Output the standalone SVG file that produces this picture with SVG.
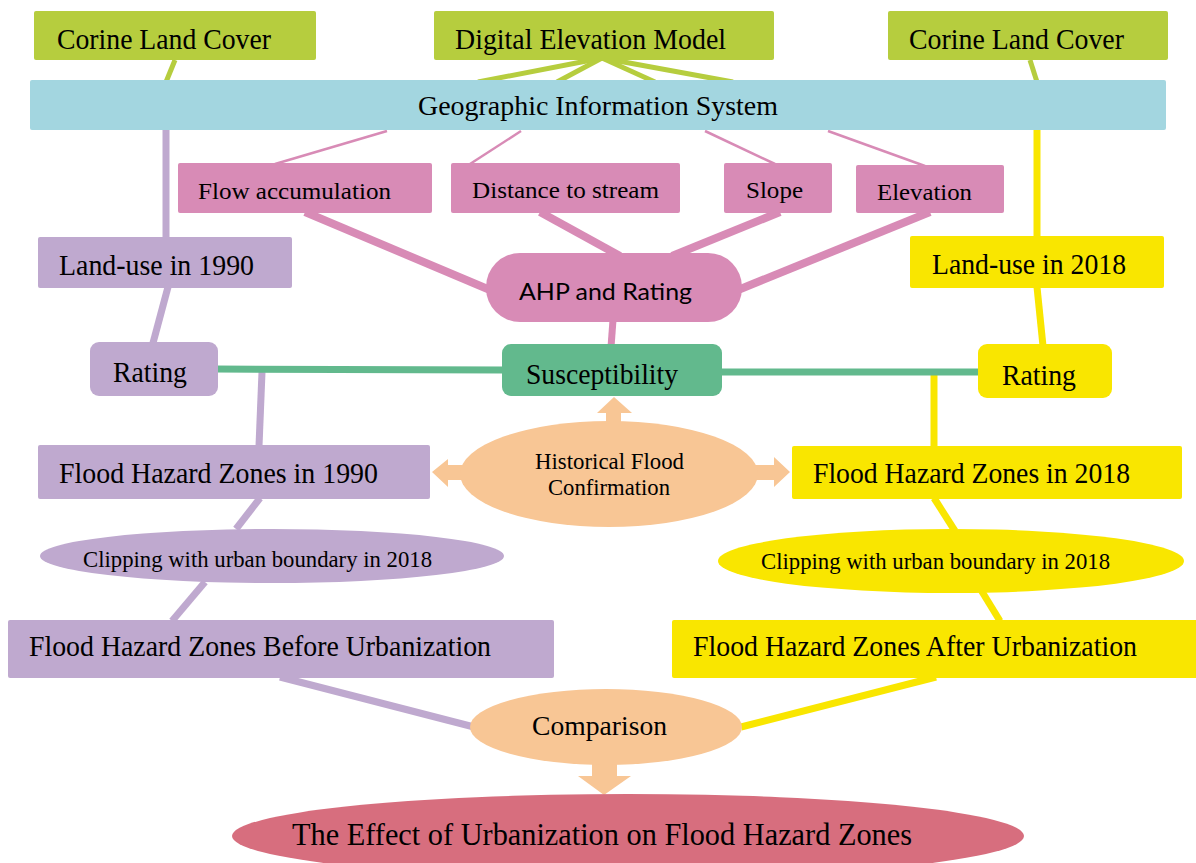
<svg xmlns="http://www.w3.org/2000/svg" width="1196" height="863" viewBox="0 0 1196 863">
<style>
.t{font-family:"Liberation Serif","Times New Roman",serif;fill:#000;}
.s{font-family:"Lato","Liberation Sans",sans-serif;fill:#000;}
.olive{fill:#b6cd3e;}
.blue{fill:#a3d6e0;}
.pink{fill:#d88bb6;}
.purple{fill:#bfa9cf;}
.yellow{fill:#f9e600;}
.green{fill:#62b98d;}
.peach{fill:#f8c695;}
.red{fill:#d76e7e;}
.lo{stroke:#b6cd3e;stroke-width:5;fill:none;}
.lp{stroke:#d88bb6;fill:none;}
.lv{stroke:#bfa9cf;stroke-width:7;fill:none;}
.ly{stroke:#f9e600;stroke-width:7;fill:none;}
.lg{stroke:#62b98d;stroke-width:7;fill:none;}
</style>
<rect width="1196" height="863" fill="#fff"/>
<g id="connectors">
  <line class="lo" x1="175" y1="60" x2="166" y2="82"/>
  <line class="lo" x1="602" y1="58" x2="478" y2="82"/>
  <line class="lo" x1="602" y1="58" x2="557" y2="82"/>
  <line class="lo" x1="602" y1="58" x2="655" y2="82"/>
  <line class="lo" x1="602" y1="58" x2="733" y2="82"/>
  <line class="lo" x1="1030" y1="60" x2="1037" y2="82"/>
  <line class="lp" stroke-width="2.5" x1="387" y1="131" x2="275" y2="164"/>
  <line class="lp" stroke-width="2.5" x1="521" y1="131" x2="470" y2="164"/>
  <line class="lp" stroke-width="2.5" x1="705" y1="131" x2="775" y2="164"/>
  <line class="lp" stroke-width="2.5" x1="828" y1="131" x2="925" y2="166"/>
  <line class="lp" stroke-width="8" x1="305" y1="212" x2="490" y2="290"/>
  <line class="lp" stroke-width="8" x1="540" y1="212" x2="620" y2="256"/>
  <line class="lp" stroke-width="8" x1="780" y1="212" x2="672" y2="256"/>
  <line class="lp" stroke-width="8" x1="930" y1="212" x2="738" y2="290"/>
  <line class="lp" stroke-width="7" x1="613" y1="320" x2="611" y2="347"/>
  <line class="lv" x1="166" y1="130" x2="166" y2="238"/>
  <line class="lv" x1="168" y1="287" x2="153" y2="343"/>
  <line class="lv" x1="262" y1="372" x2="259" y2="446"/>
  <line class="lv" x1="260" y1="498" x2="236" y2="529"/>
  <line class="lv" x1="205" y1="582" x2="172" y2="621"/>
  <line class="lv" x1="280" y1="677" x2="474" y2="727"/>
  <line class="ly" x1="1037" y1="130" x2="1037" y2="238"/>
  <line class="ly" x1="1037" y1="287" x2="1043" y2="346"/>
  <line class="ly" x1="934" y1="375" x2="934" y2="446"/>
  <line class="ly" x1="934" y1="498" x2="955" y2="531"/>
  <line class="ly" x1="981" y1="590" x2="1000" y2="621"/>
  <line class="ly" x1="936" y1="677" x2="741" y2="727"/>
  <line class="lg" x1="216" y1="369" x2="504" y2="370"/>
  <line class="lg" x1="720" y1="372" x2="981" y2="372"/>
  <path class="peach" d="M606,424 L606,413 L597,413 L614,397 L632,413 L621,413 L621,424 Z"/>
  <path class="peach" d="M464,465 L448,465 L448,459 L432,472 L448,487 L448,480 L464,480 Z"/>
  <path class="peach" d="M754,465 L774,465 L774,457 L790,472 L774,487 L774,480 L754,480 Z"/>
  <path class="peach" d="M592,762 L592,776 L578,776 L604,795 L631,776 L617,776 L617,762 Z"/>
</g>
<g id="corine-left"><rect class="olive" x="34" y="11" width="282" height="49" rx="2"/><text class="t" x="57" y="49" font-size="29" textLength="214" lengthAdjust="spacingAndGlyphs">Corine Land Cover</text></g>
<g id="dem"><rect class="olive" x="434" y="11" width="340" height="49" rx="2"/><text class="t" x="455" y="49" font-size="29" textLength="271" lengthAdjust="spacingAndGlyphs">Digital Elevation Model</text></g>
<g id="corine-right"><rect class="olive" x="888" y="11" width="280" height="49" rx="2"/><text class="t" x="909" y="49" font-size="29" textLength="215" lengthAdjust="spacingAndGlyphs">Corine Land Cover</text></g>
<g id="gis"><rect class="blue" x="30" y="80" width="1136" height="50" rx="2"/><text class="t" x="418" y="115" font-size="27" textLength="360" lengthAdjust="spacingAndGlyphs">Geographic Information System</text></g>
<g id="flow"><rect class="pink" x="178" y="163" width="254" height="50" rx="2"/><text class="t" x="198" y="199" font-size="24" textLength="193" lengthAdjust="spacingAndGlyphs">Flow accumulation</text></g>
<g id="distance"><rect class="pink" x="451" y="163" width="229" height="50" rx="2"/><text class="t" x="472" y="198" font-size="24" textLength="187" lengthAdjust="spacingAndGlyphs">Distance to stream</text></g>
<g id="slope"><rect class="pink" x="724" y="163" width="108" height="50" rx="2"/><text class="t" x="746" y="198" font-size="24" textLength="57" lengthAdjust="spacingAndGlyphs">Slope</text></g>
<g id="elevation"><rect class="pink" x="856" y="165" width="148" height="48" rx="2"/><text class="t" x="877" y="200" font-size="24" textLength="95" lengthAdjust="spacingAndGlyphs">Elevation</text></g>
<g id="ahp"><rect class="pink" x="486" y="253" width="256" height="69" rx="34"/><text class="s" x="519" y="300" font-size="24" textLength="173" lengthAdjust="spacingAndGlyphs">AHP and Rating</text></g>
<g id="landuse1990"><rect class="purple" x="38" y="237" width="254" height="51" rx="2"/><text class="t" x="59" y="275" font-size="29" textLength="195" lengthAdjust="spacingAndGlyphs">Land-use in 1990</text></g>
<g id="landuse2018"><rect class="yellow" x="910" y="236" width="254" height="52" rx="2"/><text class="t" x="932" y="274" font-size="29" textLength="194" lengthAdjust="spacingAndGlyphs">Land-use in 2018</text></g>
<g id="rating-left"><rect class="purple" x="90" y="342" width="128" height="54" rx="9"/><text class="t" x="113" y="382" font-size="29" textLength="74" lengthAdjust="spacingAndGlyphs">Rating</text></g>
<g id="susceptibility"><rect class="green" x="502" y="344" width="220" height="52" rx="9"/><text class="t" x="526" y="384" font-size="29" textLength="152" lengthAdjust="spacingAndGlyphs">Susceptibility</text></g>
<g id="rating-right"><rect class="yellow" x="978" y="344" width="134" height="54" rx="9"/><text class="t" x="1002" y="385" font-size="29" textLength="74" lengthAdjust="spacingAndGlyphs">Rating</text></g>
<g id="historical"><ellipse class="peach" cx="609" cy="474" rx="149" ry="53"/><text class="t" x="535" y="469" font-size="23" textLength="149" lengthAdjust="spacingAndGlyphs">Historical Flood</text><text class="t" x="548" y="495" font-size="23" textLength="122" lengthAdjust="spacingAndGlyphs">Confirmation</text></g>
<g id="fhz1990"><rect class="purple" x="38" y="445" width="392" height="54" rx="2"/><text class="t" x="59" y="483" font-size="29" textLength="319" lengthAdjust="spacingAndGlyphs">Flood Hazard Zones in 1990</text></g>
<g id="fhz2018"><rect class="yellow" x="792" y="446" width="390" height="53" rx="2"/><text class="t" x="813" y="483" font-size="29" textLength="317" lengthAdjust="spacingAndGlyphs">Flood Hazard Zones in 2018</text></g>
<g id="clip-left"><ellipse class="purple" cx="272" cy="556" rx="232" ry="27"/><text class="t" x="83" y="567" font-size="24" textLength="349" lengthAdjust="spacingAndGlyphs">Clipping with urban boundary in 2018</text></g>
<g id="clip-right"><ellipse class="yellow" cx="951" cy="561" rx="233" ry="32"/><text class="t" x="761" y="569" font-size="24" textLength="349" lengthAdjust="spacingAndGlyphs">Clipping with urban boundary in 2018</text></g>
<g id="before"><rect class="purple" x="8" y="620" width="546" height="58" rx="2"/><text class="t" x="29" y="656" font-size="29" textLength="462" lengthAdjust="spacingAndGlyphs">Flood Hazard Zones Before Urbanization</text></g>
<g id="after"><rect class="yellow" x="672" y="620" width="530" height="58" rx="2"/><text class="t" x="693" y="656" font-size="29" textLength="444" lengthAdjust="spacingAndGlyphs">Flood Hazard Zones After Urbanization</text></g>
<g id="comparison"><ellipse class="peach" cx="606" cy="727" rx="136" ry="38"/><text class="t" x="532" y="735" font-size="27" textLength="135" lengthAdjust="spacingAndGlyphs">Comparison</text></g>
<g id="effect"><ellipse class="red" cx="628" cy="836" rx="396" ry="42"/><text class="t" x="292" y="845" font-size="31" textLength="620" lengthAdjust="spacingAndGlyphs">The Effect of Urbanization on Flood Hazard Zones</text></g>
</svg>
